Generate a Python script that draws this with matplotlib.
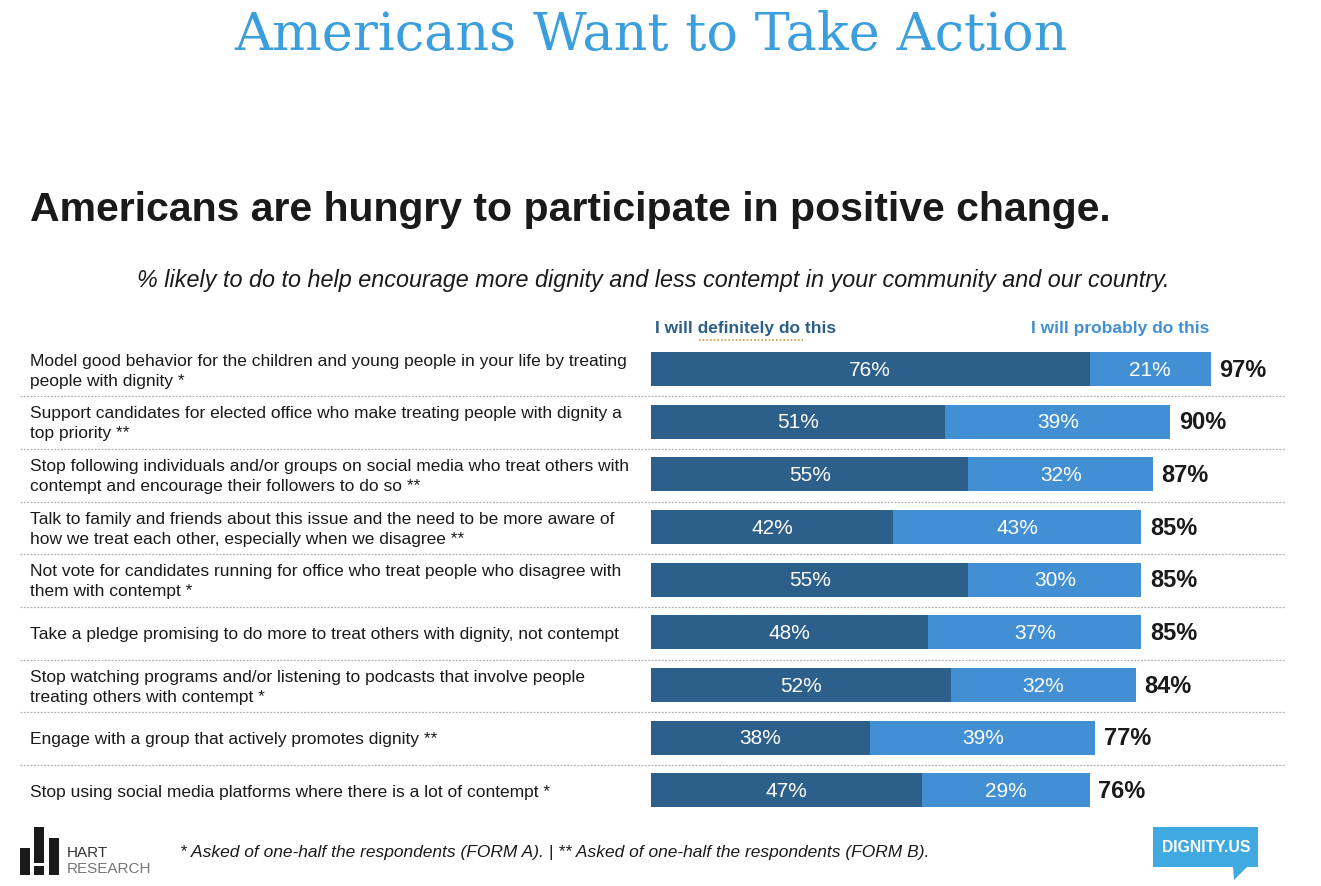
import numpy as np
import matplotlib.pyplot as plt
from matplotlib.patches import Rectangle, Polygon
from matplotlib.transforms import blended_transform_factory

W, H = 1321, 886

categories = [
    "Model good behavior for the children and young people in your life by treating\npeople with dignity *",
    "Support candidates for elected office who make treating people with dignity a\ntop priority **",
    "Stop following individuals and/or groups on social media who treat others with\ncontempt and encourage their followers to do so **",
    "Talk to family and friends about this issue and the need to be more aware of\nhow we treat each other, especially when we disagree **",
    "Not vote for candidates running for office who treat people who disagree with\nthem with contempt *",
    "Take a pledge promising to do more to treat others with dignity, not contempt",
    "Stop watching programs and/or listening to podcasts that involve people\ntreating others with contempt *",
    "Engage with a group that actively promotes dignity **",
    "Stop using social media platforms where there is a lot of contempt *",
]
definitely = [76, 51, 55, 42, 55, 48, 52, 38, 47]
probably = [21, 39, 32, 43, 30, 37, 32, 39, 29]
totals = [97, 90, 87, 85, 85, 85, 84, 77, 76]

dark = "#2c5f8a"
light = "#4290d3"
title_blue = "#3a9fdc"


def fx(x):
    return x / W


def fy(y):
    return 1 - y / H


fig = plt.figure(figsize=(W / 100, H / 100), dpi=100)
plt.rcParams['font.family'] = ['Liberation Sans', 'DejaVu Sans']

# bar area: x from pixel 651, 5.77 px per percent; rows 52.6 px apart
x0, x1 = 651, 1290
y_top, y_bot = 342.7, 816.6
ax = fig.add_axes([fx(x0), fy(y_bot), fx(x1) - fx(x0), (y_bot - y_top) / H])
ax.set_xlim(0, (x1 - x0) / 5.77)
ax.set_ylim(len(categories) - 0.5, -0.5)
ax.axis('off')

y = np.arange(len(categories))
ax.barh(y, definitely, height=0.65, color=dark)
ax.barh(y, probably, left=definitely, height=0.65, color=light)

for i in range(len(categories)):
    ax.text(definitely[i] / 2, i + 0.02, f"{definitely[i]}%", color="white",
            ha="center", va="center", fontsize=15)
    ax.text(definitely[i] + probably[i] / 2, i + 0.02, f"{probably[i]}%", color="white",
            ha="center", va="center", fontsize=15)
    ax.annotate(f"{totals[i]}%", (totals[i], i + 0.02), xytext=(6, 0),
                textcoords="offset points", ha="left", va="center",
                fontsize=17, fontweight="bold", color="#1a1a1a")

# row labels and dashed separators
tr = blended_transform_factory(fig.transFigure, ax.transData)
for i, cat in enumerate(categories):
    ax.text(fx(30), i + 0.04, cat, transform=tr, ha="left", va="center",
            fontsize=12.5, linespacing=1.42, color="#1a1a1a", clip_on=False)
for i in range(len(categories) - 1):
    ax.plot([fx(20), fx(1285)], [i + 0.52, i + 0.52], transform=tr,
            color="#b0b0b0", lw=0.9, ls=(0, (1.5, 1.2)), clip_on=False)

# legend labels
fig.text(fx(655), fy(329), "I will definitely do this", color=dark,
         fontsize=12.5, fontweight="bold", ha="left", va="center")
fig.text(fx(1209), fy(329), "I will probably do this", color=light,
         fontsize=12.5, fontweight="bold", ha="right", va="center")
fig.add_artist(plt.Line2D([fx(699), fx(803)], [fy(340), fy(340)],
                          color="#d09a3a", lw=1.2, ls=(0, (1, 1.2))))

# titles
title = fig.text(fx(651), fy(50), "Americans Want to Take Action", color=title_blue,
                 fontsize=40, family="DejaVu Serif", ha="center", va="baseline")
fig.canvas.draw()
tw = title.get_window_extent().width
title.set_fontsize(40 * 831 / tw)

fig.text(fx(30), fy(210), "Americans are hungry to participate in positive change.",
         fontsize=29.5, fontweight="bold", color="#1a1a1a", ha="left", va="center")
fig.text(fx(653), fy(281),
         "% likely to do to help encourage more dignity and less contempt in your community and our country.",
         fontsize=16.8, style="italic", color="#1a1a1a", ha="center", va="center")

# footnote
fig.text(fx(180), fy(852),
         "* Asked of one-half the respondents (FORM A). | ** Asked of one-half the respondents (FORM B).",
         fontsize=12.5, style="italic", color="#1a1a1a", ha="left", va="center")

# Hart Research logo
for (bx, by0, by1) in [(20, 848, 875), (34, 827, 863), (34, 866, 875), (49, 838, 875)]:
    fig.add_artist(Rectangle((fx(bx), fy(by1)), fx(10), (by1 - by0) / H,
                             color="#1a1a1a", lw=0))
fig.text(fx(67), fy(853), "HART", fontsize=11, color="#333333",
         ha="left", va="center")
fig.text(fx(67), fy(869), "RESEARCH", fontsize=11, color="#777777",
         ha="left", va="center")

# DIGNITY.US logo
logo_blue = "#3fa9e0"
fig.add_artist(Rectangle((fx(1153), fy(867)), fx(1258 - 1153), (867 - 827) / H,
                         color=logo_blue, lw=0))
fig.add_artist(Polygon([(fx(1233), fy(866)), (fx(1248), fy(866)), (fx(1234), fy(880))],
                       closed=True, color=logo_blue, lw=0))
logo = fig.text(fx(1206), fy(847), "DIGNITY.US", fontsize=12, fontweight="bold",
                color="white", ha="center", va="center")
fig.canvas.draw()
logo.set_fontsize(12 * 88 / logo.get_window_extent().width)

fig.savefig("out.png", dpi=100)
